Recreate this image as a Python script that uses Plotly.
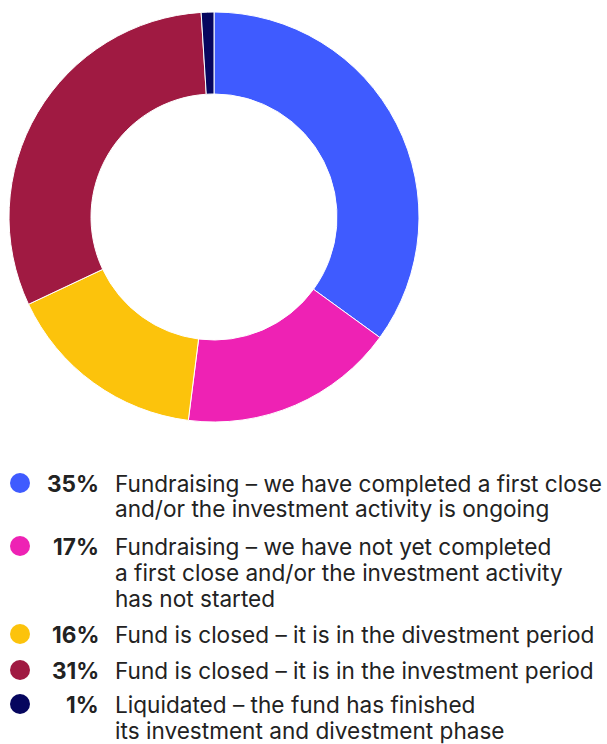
import plotly.graph_objects as go

W, H = 607, 744

values = [35, 17, 16, 31, 1]
pct_labels = ["35%", "17%", "16%", "31%", "1%"]
labels = [
    "Fundraising – we have completed a first close<br>and/or the investment activity is ongoing",
    "Fundraising – we have not yet completed<br>a first close and/or the investment activity<br>has not started",
    "Fund is closed – it is in the divestment period",
    "Fund is closed – it is in the investment period",
    "Liquidated – the fund has finished<br>its investment and divestment phase",
]
colors = ["#3F5BFF", "#EE22B4", "#FCC30C", "#A01A42", "#06065E"]

# first-line centre y (px from top) of each legend row
row_y = [483, 546, 634, 670, 704]

fig = go.Figure()
fig.add_trace(go.Pie(
    values=values,
    labels=[l.replace("<br>", " ") for l in labels],
    marker=dict(colors=colors, line=dict(color="white", width=1)),
    hole=0.6,
    sort=False,
    direction="clockwise",
    rotation=0,
    textinfo="none",
    hoverinfo="label+percent",
    showlegend=False,
    domain=dict(x=[9 / W, 419 / W], y=[1 - 422 / H, 1 - 12 / H]),
))

font = "Inter, 'Noto Sans', sans-serif"
fs = 22.6
lh = 26
shapes = []
ann = []
for p, l, c, y in zip(pct_labels, labels, colors, row_y):
    r = 10
    cx = 20
    shapes.append(dict(type="circle", xref="paper", yref="paper",
                       x0=(cx - r) / W, x1=(cx + r) / W,
                       y0=1 - (y + r) / H, y1=1 - (y - r) / H,
                       fillcolor=c, line=dict(width=0)))
    ann.append(dict(text="<b>" + p + "</b>", x=100 / W, y=1 - y / H, xref="paper", yref="paper",
                    xanchor="right", yanchor="middle", showarrow=False, borderpad=0,
                    font=dict(family=font, size=fs, color="#222222")))
    for k, line in enumerate(l.split("<br>")):
        ann.append(dict(text=line, x=114 / W, y=1 - (y + k * lh) / H, xref="paper", yref="paper",
                        xanchor="left", yanchor="middle", showarrow=False, borderpad=0,
                        font=dict(family=font, size=fs, color="#222222")))

fig.update_layout(
    width=W, height=H,
    margin=dict(l=0, r=0, t=0, b=0),
    paper_bgcolor="white", plot_bgcolor="white",
    shapes=shapes, annotations=ann,
)
fig.write_html("out.html", config={"displayModeBar": False},
               post_script="document.body.style.margin='0';")
